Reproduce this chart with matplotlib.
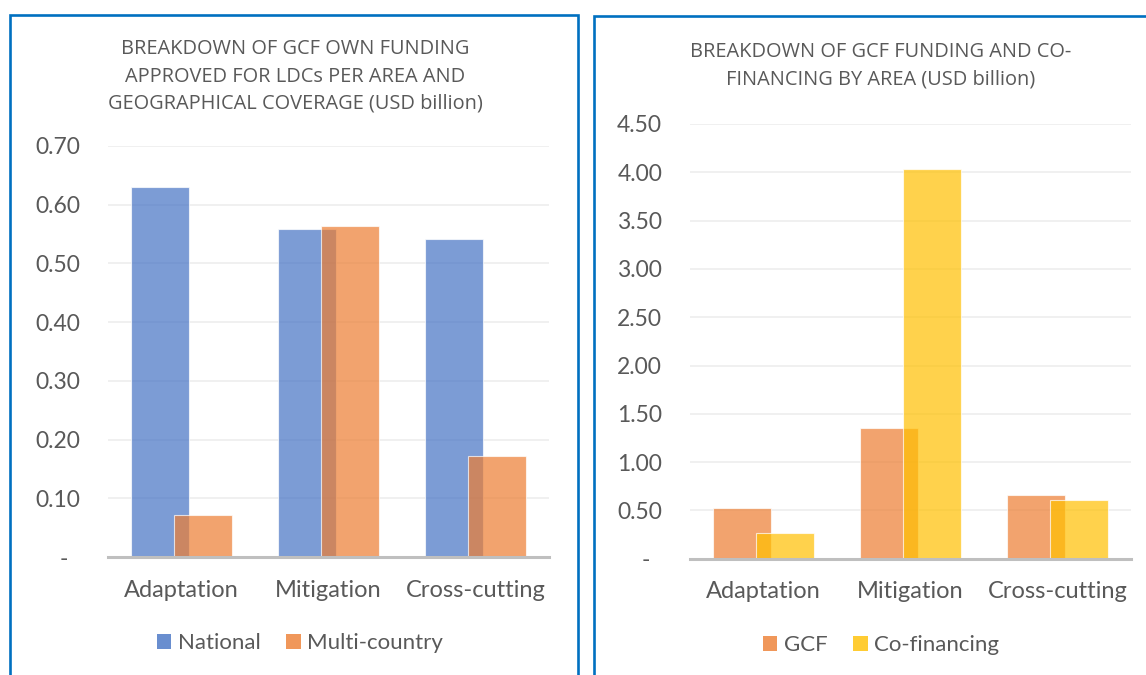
import matplotlib
matplotlib.use("Agg")
import matplotlib.pyplot as plt
from matplotlib.patches import Rectangle, Patch
import numpy as np

categories = ["Adaptation", "Mitigation", "Cross-cutting"]
national = [0.630, 0.558, 0.541]
multi_country = [0.072, 0.564, 0.172]
gcf = [0.53, 1.35, 0.66]
co_financing = [0.27, 4.03, 0.61]

left_yticks = [0.0, 0.10, 0.20, 0.30, 0.40, 0.50, 0.60, 0.70]
left_ylabels = ["-  ", "0.10", "0.20", "0.30", "0.40", "0.50", "0.60", "0.70"]
right_yticks = [0.0, 0.5, 1.0, 1.5, 2.0, 2.5, 3.0, 3.5, 4.0, 4.5]
right_ylabels = ["-  ", "0.50", "1.00", "1.50", "2.00", "2.50", "3.00", "3.50", "4.00", "4.50"]

title_left = "BREAKDOWN OF GCF OWN FUNDING\nAPPROVED FOR LDCs PER AREA AND\nGEOGRAPHICAL COVERAGE (USD billion)"
title_right = "BREAKDOWN OF GCF FUNDING AND CO-\nFINANCING BY AREA (USD billion)"

FONT = "Lato"
TXT = "#595959"
plt.rcParams["font.family"] = [FONT, "DejaVu Sans"]

W, H = 1146, 675
fig = plt.figure(figsize=(W / 100, H / 100), dpi=100)


def px_axes(x0, x1, ytop, ybot):
    return fig.add_axes([x0 / W, 1 - ybot / H, (x1 - x0) / W, (ybot - ytop) / H])


def style(ax, yticks, ylabels, ymax):
    x = np.arange(len(categories))
    ax.set_xlim(-0.5, len(categories) - 0.5)
    ax.set_ylim(0, ymax)
    ax.set_yticks(yticks)
    ax.set_yticklabels(ylabels)
    ax.set_xticks(x)
    ax.set_xticklabels(categories)
    for s in ["left", "right", "top"]:
        ax.spines[s].set_visible(False)
    ax.spines["bottom"].set_color("#BFBFBF")
    ax.spines["bottom"].set_linewidth(2.2)
    ax.spines["bottom"].set_zorder(5)
    ax.tick_params(axis="both", length=0, colors=TXT, labelsize=16.5)
    ax.tick_params(axis="x", labelsize=17)
    ax.tick_params(axis="y", pad=20)
    ax.tick_params(axis="x", pad=16)
    ax.yaxis.grid(True, color="#EFEFEF", linewidth=1.3)
    ax.set_axisbelow(True)


bw = 0.395
off = 0.1475
x = np.arange(len(categories))

# Left chart
axL = px_axes(108, 549, 145.7, 557.3)
axL.bar(x - off, national, width=bw, color="#4472C4", alpha=0.7, zorder=2,
        edgecolor=(1, 1, 1, 0.5), linewidth=0.8)
axL.bar(x + off, multi_country, width=bw, color="#ED7D31", alpha=0.7, zorder=3,
        edgecolor=(1, 1, 1, 0.5), linewidth=0.8)
style(axL, left_yticks, left_ylabels, 0.70)

# Right chart
axR = px_axes(690, 1131, 124, 558.7)
axR.bar(x - off, gcf, width=bw, color="#ED7D31", alpha=0.7, zorder=2,
        edgecolor=(1, 1, 1, 0.5), linewidth=0.8)
axR.bar(x + off, co_financing, width=bw, color="#FFC000", alpha=0.7, zorder=3,
        edgecolor=(1, 1, 1, 0.5), linewidth=0.8)
style(axR, right_yticks, right_ylabels, 4.5)

# Titles
tfont = ["Open Sans", "DejaVu Sans"]
fig.text(295 / W, 1 - 76.5 / H, title_left, ha="center", va="center", color=TXT,
         fontsize=14.4, linespacing=1.5, family=tfont)
fig.text(881 / W, 1 - 66 / H, title_right, ha="center", va="center", color=TXT,
         fontsize=14.4, linespacing=1.5, family=tfont)

# Legends
def add_legend(labels, colors, cx, cy):
    handles = [Patch(facecolor=c, alpha=0.8, edgecolor="none") for c in colors]
    leg = fig.legend(handles, labels, loc="center", bbox_to_anchor=(cx / W, 1 - cy / H),
                     ncol=len(labels), frameon=False, fontsize=16,
                     handlelength=0.65, handleheight=0.65, handletextpad=0.3,
                     columnspacing=1.15, labelcolor=TXT)
    return leg

add_legend(["National", "Multi-country"], ["#4472C4", "#ED7D31"], 300, 643)
add_legend(["GCF", "Co-financing"], ["#ED7D31", "#FFC000"], 881, 645)

# Panel borders
bc = "#0070C0"
fig.patches.append(Rectangle((10 / W, -0.1), (578 - 10) / W, 1.1 - 15 / H,
                             transform=fig.transFigure, fill=False, edgecolor=bc,
                             linewidth=1.9))
fig.patches.append(Rectangle((593.5 / W, -0.1), 0.5, 1.1 - 16 / H,
                             transform=fig.transFigure, fill=False, edgecolor=bc,
                             linewidth=1.9))

fig.savefig("out.png", dpi=100)
